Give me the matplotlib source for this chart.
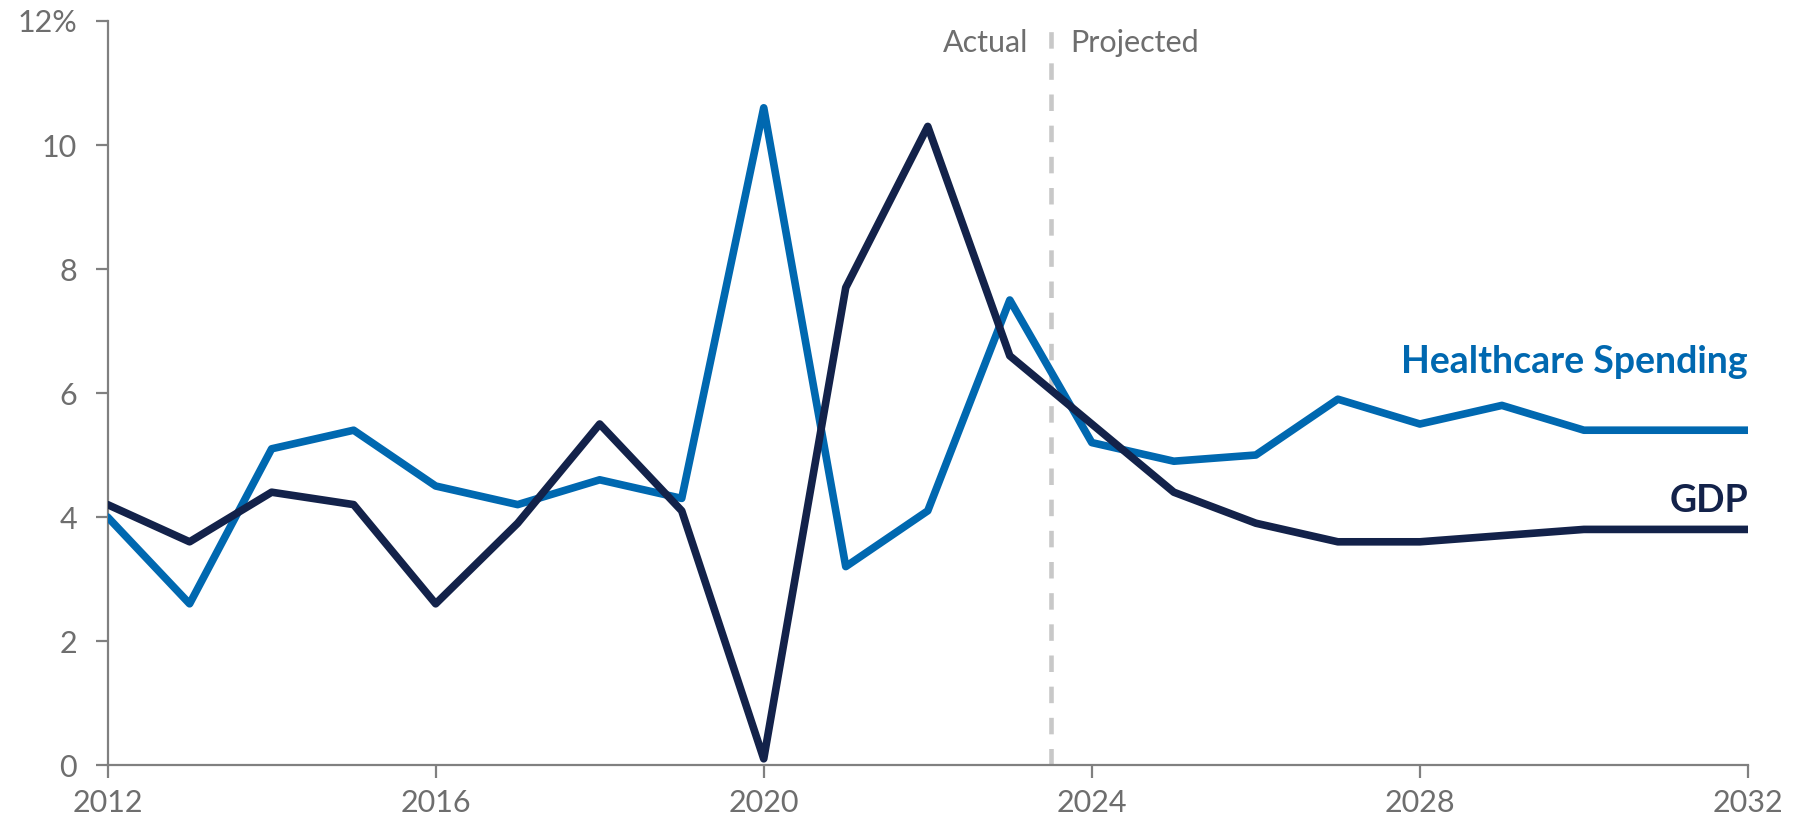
import matplotlib.pyplot as plt
import numpy as np

# Data (annual growth, %)
years = list(range(2012, 2033))
healthcare = [4.0, 2.6, 5.1, 5.4, 4.5, 4.2, 4.6, 4.3, 10.6, 3.2, 4.1, 7.5,
              5.2, 4.9, 5.0, 5.9, 5.5, 5.8, 5.4, 5.4, 5.4]
gdp = [4.2, 3.6, 4.4, 4.2, 2.6, 3.9, 5.5, 4.1, 0.1, 7.7, 10.3, 6.6,
       5.5, 4.4, 3.9, 3.6, 3.6, 3.7, 3.8, 3.8, 3.8]
x_ticks = [2012, 2016, 2020, 2024, 2028, 2032]
y_ticks = [0, 2, 4, 6, 8, 10, 12]
y_labels = ["0", "2", "4", "6", "8", "10", "12%"]
split_year = 2023.5

blue = "#0068b0"
navy = "#13224a"
grey = "#808080"
text_grey = "#6e6e6e"

plt.rcParams['font.family'] = ['Lato', 'DejaVu Sans']

fig = plt.figure(figsize=(18.05, 8.3), dpi=100)
ax = fig.add_axes([0.0596, 0.0783, 0.9088, 0.8964])

# Actual / projected divider
ax.axvline(split_year, color="#c8c8c8", lw=3.3, dashes=(3.6, 3.2), zorder=1)
ax.annotate("Actual", xy=(split_year, 11.65), xytext=(-16, 0), textcoords="offset points",
            ha="right", va="center", fontsize=22, color=text_grey)
ax.annotate("Projected", xy=(split_year, 11.65), xytext=(14, 0), textcoords="offset points",
            ha="left", va="center", fontsize=22, color=text_grey)

# Lines
ax.plot(years, healthcare, color=blue, lw=5.5, solid_capstyle="round",
        solid_joinstyle="round", zorder=3)
ax.plot(years, gdp, color=navy, lw=5.5, solid_capstyle="round",
        solid_joinstyle="round", zorder=3)

# Direct labels
ax.text(years[-1], 6.5, "Healthcare Spending", ha="right", va="center",
        fontsize=27, fontweight="bold", color=blue)
ax.text(years[-1], 4.26, "GDP", ha="right", va="center",
        fontsize=27, fontweight="bold", color=navy)

# Axes styling
ax.set_xlim(2012, 2032)
ax.set_ylim(0, 12)
ax.set_xticks(x_ticks)
ax.set_yticks(y_ticks)
ax.set_yticklabels(y_labels)
for side in ["top", "right"]:
    ax.spines[side].set_visible(False)
for side in ["left", "bottom"]:
    ax.spines[side].set_color(grey)
    ax.spines[side].set_linewidth(1.6)
ax.tick_params(axis="both", colors=grey, labelcolor=text_grey, labelsize=22,
               length=9, width=1.6)
ax.tick_params(axis="y", pad=13)
ax.tick_params(axis="x", pad=8)

fig.savefig("out.png", dpi=100)
